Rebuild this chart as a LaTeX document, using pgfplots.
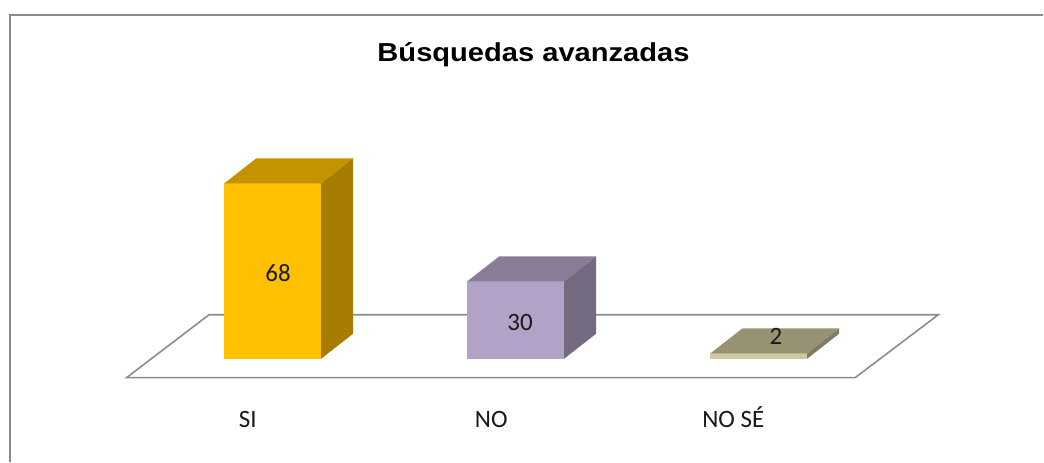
\documentclass[border=0pt]{standalone}
\usepackage{fontspec}
\setmainfont{Carlito}
\newfontfamily\titlefont{Liberation Sans}
\usepackage{graphicx}
\usepackage{pgfplots}
\pgfplotsset{compat=1.18}
\definecolor{siF}{HTML}{FFC000}
\definecolor{siT}{HTML}{C49400}
\definecolor{siS}{HTML}{A67D00}
\definecolor{noF}{HTML}{B3A2C7}
\definecolor{noT}{HTML}{8A7C99}
\definecolor{noS}{HTML}{746A82}
\definecolor{nsF}{HTML}{CFC8A2}
\definecolor{nsT}{HTML}{989274}
\definecolor{nsS}{HTML}{7F7A61}
\definecolor{floorc}{HTML}{8C8C8C}
\definecolor{framec}{HTML}{8A8A8A}
\begin{document}
\begin{tikzpicture}
\begin{axis}[
  scale only axis, width=522pt, height=231pt,
  xmin=-1.1223, xmax=3.1696, ymin=-39.92, ymax=139.15,
  hide axis, clip=false,
]
% background and outer frame
\fill[white] (rel axis cs:0,0) rectangle (rel axis cs:1,1);
\draw[framec, line width=1pt] (rel axis cs:0.00958,0) -- (rel axis cs:0.00958,0.9675) -- (rel axis cs:1,0.9675);
% floor
\addplot[draw=floorc, line width=0.8pt, fill=white] coordinates {(-0.6014,-7.36) (2.3967,-7.36) (2.739,17.05) (-0.2619,17.05)} -- cycle;
% SI = 68
\addplot[ybar, bar width=0.3988, bar shift=0pt, fill=siF, draw=none] coordinates {(0,68)};
\addplot[fill=siT, draw=none] coordinates {(-0.1994,68) (0.1994,68) (0.3309,77.7) (-0.0679,77.7)} -- cycle;
\addplot[fill=siS, draw=none] coordinates {(0.1994,0) (0.3309,9.7) (0.3309,77.7) (0.1994,68)} -- cycle;
% NO = 30
\addplot[ybar, bar width=0.3988, bar shift=0pt, fill=noF, draw=none] coordinates {(1,30)};
\addplot[fill=noT, draw=none] coordinates {(0.8006,30) (1.1994,30) (1.3309,39.7) (0.9321,39.7)} -- cycle;
\addplot[fill=noS, draw=none] coordinates {(1.1994,0) (1.3309,9.7) (1.3309,39.7) (1.1994,30)} -- cycle;
% NO SE = 2
\addplot[ybar, bar width=0.3988, bar shift=0pt, fill=nsF, draw=none] coordinates {(2,2)};
\addplot[fill=nsT, draw=none] coordinates {(1.8006,2) (2.1994,2) (2.3309,11.7) (1.9321,11.7)} -- cycle;
\addplot[fill=nsS, draw=none] coordinates {(2.1994,0) (2.3309,9.7) (2.3309,11.7) (2.1994,2)} -- cycle;
% value labels
\node[font=\fontsize{12.5}{15}\selectfont, text=black!90] at (axis cs:0.0218,33.2) {68};
\node[font=\fontsize{12.5}{15}\selectfont, text=black!90] at (axis cs:1.0175,13.84) {30};
\node[font=\fontsize{12.5}{15}\selectfont, text=black!90] at (axis cs:2.0707,8.8) {2};
% category labels
\node[anchor=base, font=\fontsize{12.5}{15}\selectfont, text=black!90] at (axis cs:-0.1028,-26.9) {SI};
\node[anchor=base, font=\fontsize{12.5}{15}\selectfont, text=black!90] at (axis cs:0.899,-26.9) {NO};
\node[anchor=base, font=\fontsize{12.5}{15}\selectfont, text=black!90] at (axis cs:1.895,-26.9) {NO SÉ};
% title
\node[anchor=base] at (rel axis cs:0.5115,0.8665) {\titlefont\bfseries\fontsize{13}{15}\selectfont\scalebox{1.12}[1]{Búsquedas avanzadas}};
\end{axis}
\end{tikzpicture}
\end{document}
